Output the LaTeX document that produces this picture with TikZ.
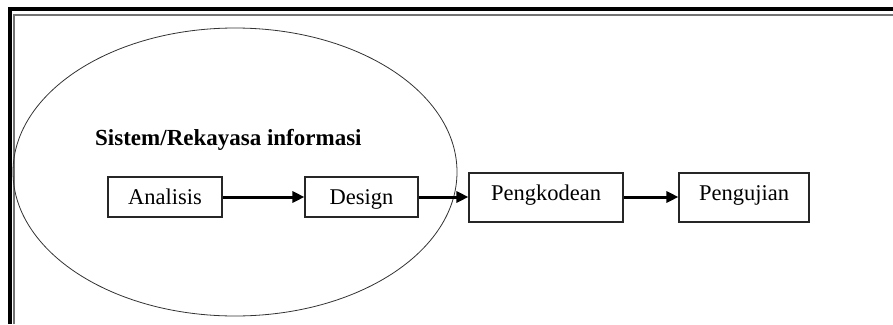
\documentclass[tikz,border=0pt]{standalone}
\usepackage{fontspec}
\setmainfont{Liberation Serif}
\usetikzlibrary{arrows.meta,shapes.geometric}
\begin{document}
\begin{tikzpicture}[x=1pt,y=-1pt,
  stepbox/.style={draw=black!85,line width=1.1pt,rectangle,inner sep=0pt,
    font=\fontsize{22.5}{24}\selectfont},
  flow/.style={line width=3pt,-{Triangle[length=12pt,width=11pt]}}]
\useasboundingbox (0,0) rectangle (893,324);
% frame
\draw[line width=3.8pt] (9.8,324) -- (9.8,8.9) -- (893,8.9);
\draw[line width=1.5pt,black!55] (13.9,324) -- (13.9,15) -- (893,15);
% ellipse
\node[draw=black!80,line width=0.8pt,ellipse,inner sep=0pt,minimum width=444pt,minimum height=288pt] (sys) at (235,172) {};
% title
\node[anchor=base west,inner sep=0pt,font=\fontsize{23}{24}\selectfont\bfseries] (title) at (95,145) {Sistem/Rekayasa informasi};
% boxes
\node[stepbox,minimum width=114pt,minimum height=40pt,text height=16pt,text depth=2pt] (ana) at (165,197) {Analisis};
\node[stepbox,minimum width=113pt,minimum height=40pt,text height=16pt,text depth=2pt] (des) at (361.5,197) {Design};
\node[stepbox,minimum width=154pt,minimum height=49pt,text height=13pt,text depth=7pt] (pen) at (546,197.5) {Pengkodean};
\node[stepbox,minimum width=130pt,minimum height=49pt,text height=13pt,text depth=7pt] (uji) at (744,197.5) {Pengujian};
% arrows
\draw[flow] (ana.east) -- (des.west);
\draw[flow] (des.east) -- (des.east -| pen.west);
\draw[flow] (pen.east |- des.east) -- (uji.west |- des.east);
\end{tikzpicture}
\end{document}
